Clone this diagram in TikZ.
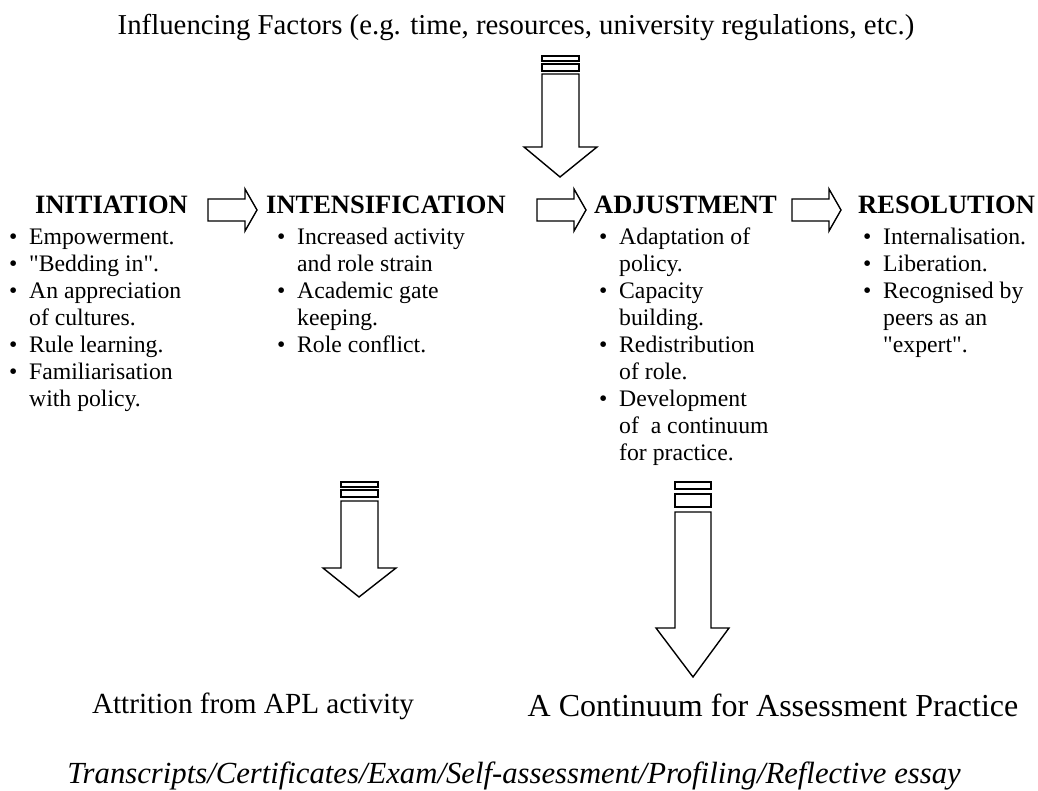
\documentclass[tikz,border=0pt]{standalone}
\usepackage{fontspec}
\setmainfont{Liberation Serif}[Ligatures=TeXOff]
\usetikzlibrary{positioning}

\newcommand{\titlesize}{\fontsize{28.8}{33}\selectfont}
\newcommand{\headsize}{\fontsize{26.5}{30}\selectfont\bfseries}
\newcommand{\listsize}{\fontsize{23.7}{27}\selectfont}
\newcommand{\bul}{\makebox[20pt][l]{\textbullet}}
\newcommand{\ind}{\hspace*{20pt}}

\tikzset{
  blockarrow/.style={draw=black,line width=1.4pt,fill=white,line join=miter},
  stage/.style={anchor=base west,inner sep=0pt,font=\headsize},
  itemlist/.style={anchor=base west,inner sep=0pt,font=\listsize},
  footer/.style={anchor=base,inner sep=0pt}
}

% right pointing block arrow: left end x, centre y
\newcommand{\rightblock}[2]{%
  \draw[blockarrow] (#1,#2-11) -- (#1+37,#2-11) -- (#1+37,#2-21) -- (#1+49,#2)
    -- (#1+37,#2+21) -- (#1+37,#2+11) -- (#1,#2+11) -- cycle;}

\begin{document}
\begin{tikzpicture}[x=1pt,y=-1pt]
  \useasboundingbox (0,0) rectangle (1038,791);

  \node[footer,font=\titlesize] (factors) at (516,35) {Influencing Factors (e.g. time, resources, university regulations, etc.)};

  % down arrow from the factors
  \draw[blockarrow] (542,56) rectangle (579,61);
  \draw[blockarrow] (542,64) rectangle (579,71);
  \draw[blockarrow] (542,74) -- (579,74) -- (579,147) -- (597,147) -- (560,177)
    -- (524,147) -- (542,147) -- cycle;

  % stages
  \node[stage] (initiation) at (35,214) {INITIATION};
  \node[stage] (intensification) at (266,214) {INTENSIFICATION};
  \node[stage] (adjustment) at (594,214) {ADJUSTMENT};
  \node[stage] (resolution) at (858,214) {RESOLUTION};

  \rightblock{208}{210}
  \rightblock{537}{210}
  \rightblock{792}{210}

  \node[itemlist] (initiationlist) at (9,245) {\begin{tabular}[t]{@{}l@{}}
    \bul Empowerment.\\
    \bul "Bedding in".\\
    \bul An appreciation\\
    \ind of cultures.\\
    \bul Rule learning.\\
    \bul Familiarisation\\
    \ind with policy.
  \end{tabular}};
  \node[itemlist] (intensificationlist) at (277,245) {\begin{tabular}[t]{@{}l@{}}
    \bul Increased activity\\
    \ind and role strain\\
    \bul Academic gate\\
    \ind keeping.\\
    \bul Role conflict.
  \end{tabular}};
  \node[itemlist] (adjustmentlist) at (599,245) {\begin{tabular}[t]{@{}l@{}}
    \bul Adaptation of\\
    \ind policy.\\
    \bul Capacity\\
    \ind building.\\
    \bul Redistribution\\
    \ind of role.\\
    \bul Development\\
    \ind of\ \ a continuum\\
    \ind for practice.
  \end{tabular}};
  \node[itemlist] (resolutionlist) at (863,245) {\begin{tabular}[t]{@{}l@{}}
    \bul Internalisation.\\
    \bul Liberation.\\
    \bul Recognised by\\
    \ind peers as an\\
    \ind "expert".
  \end{tabular}};

  % down arrows to the outcomes
  \draw[blockarrow] (341,482) rectangle (378,487);
  \draw[blockarrow] (341,490) rectangle (378,497);
  \draw[blockarrow] (341,501) -- (378,501) -- (378,568) -- (396,568) -- (359,597)
    -- (323,568) -- (341,568) -- cycle;

  \draw[blockarrow] (675,482) rectangle (711,489);
  \draw[blockarrow] (675,494) rectangle (711,507);
  \draw[blockarrow] (675,512) -- (711,512) -- (711,628) -- (729,628) -- (693,677)
    -- (656,628) -- (675,628) -- cycle;

  \node[footer,font=\fontsize{29.2}{34}\selectfont] (attrition) at (253,713) {Attrition from APL activity};
  \node[footer,font=\fontsize{32}{37}\selectfont] (continuum) at (773,716) {A Continuum for Assessment Practice};
  \node[footer,font=\fontsize{30.7}{35}\selectfont\itshape] (methods) at (514,783) {Transcripts/Certificates/Exam/Self-assessment/Profiling/Reflective essay};
\end{tikzpicture}
\end{document}
